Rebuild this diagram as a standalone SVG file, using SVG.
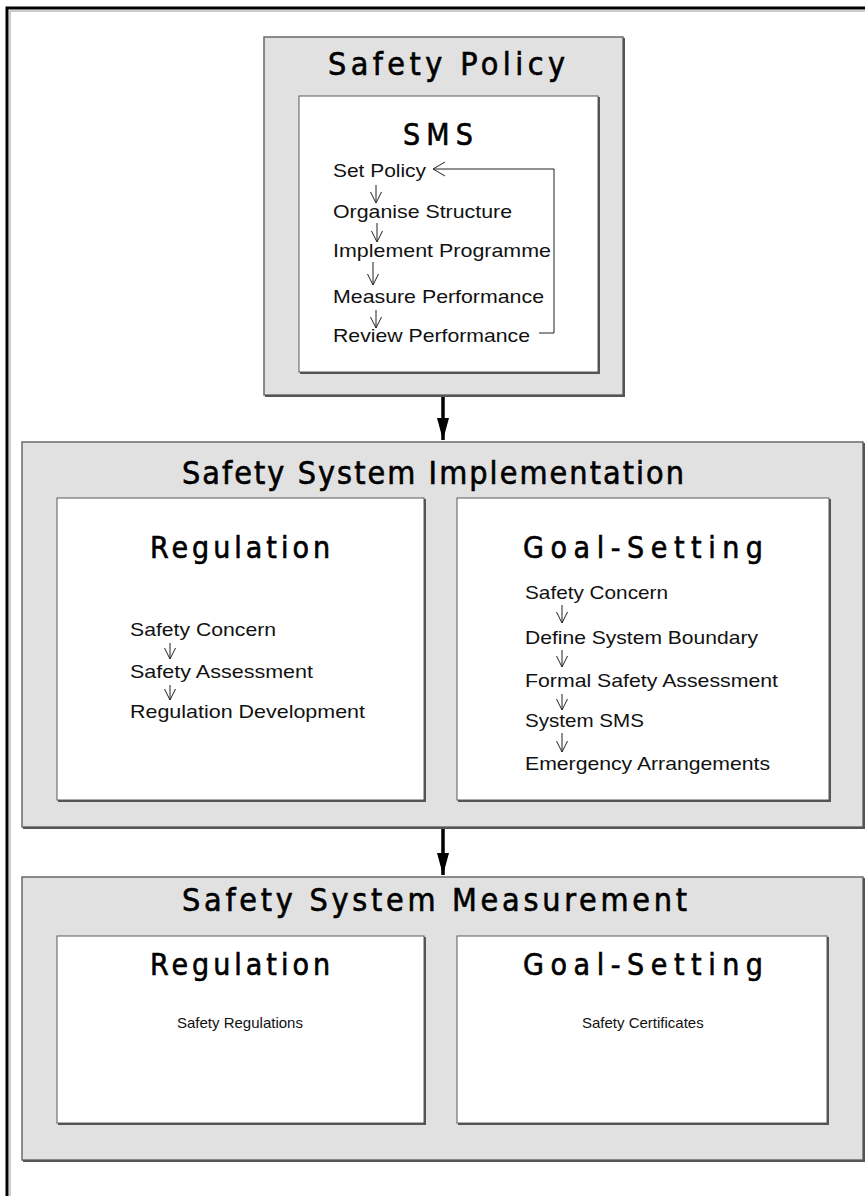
<svg xmlns="http://www.w3.org/2000/svg" width="865" height="1196" viewBox="0 0 865 1196">
  <style>
    .frame { fill: none; stroke: #000; stroke-width: 3; }
    .frame-shade { fill: none; stroke: #9a9a9a; stroke-width: 1; }
    .panel { fill: #e1e1e1; stroke: #6a6a6a; stroke-width: 1.5; }
    .card { fill: #fff; stroke: #5a5a5a; stroke-width: 1; }
    .shade { fill: none; stroke: #555; stroke-width: 2; }
    .head { font-family: "Liberation Sans Narrow", "DejaVu Sans Condensed", "Liberation Sans", sans-serif; font-size: 32px; fill: #000; stroke: #000; stroke-width: 0.6; }
    .sub { font-family: "Liberation Sans Narrow", "DejaVu Sans Condensed", "Liberation Sans", sans-serif; font-size: 30px; fill: #000; stroke: #000; stroke-width: 0.6; }
    .item { font-family: "Liberation Sans", Arial, sans-serif; font-size: 18.5px; fill: #111; }
    .small { font-family: "Liberation Sans", Arial, sans-serif; font-size: 15px; fill: #111; }
    .step { fill: none; stroke: #222; stroke-width: 1; }
    .flow { fill: none; stroke: #000; stroke-width: 3.5; }
  </style>
  <defs>
    <marker id="vhead" markerUnits="userSpaceOnUse" markerWidth="14" markerHeight="14" refX="12" refY="6" orient="auto">
      <path d="M1,0.5 L12,6 L1,11.5" fill="none" stroke="#222" stroke-width="1"/>
    </marker>
    <marker id="vback" markerUnits="userSpaceOnUse" markerWidth="16" markerHeight="18" refX="13" refY="8" orient="auto">
      <path d="M1,1 L13,8 L1,15" fill="none" stroke="#222" stroke-width="1"/>
    </marker>
    <marker id="solid" markerUnits="userSpaceOnUse" markerWidth="24" markerHeight="14" refX="22" refY="6" orient="auto">
      <path d="M0,0 L22,6 L0,12 Z" fill="#000"/>
    </marker>
  </defs>

  <!-- page frame: top and left rules -->
  <path class="frame" d="M7,1196 V8 H865"/>
  <path class="frame-shade" d="M10,1196 V11 H865"/>

  <!-- Safety Policy -->
  <g id="safety-policy">
    <rect class="panel" x="264" y="37" width="359" height="358"/>
    <path class="shade" d="M624,38 V396 H265"/>
    <text class="head" x="328" y="75" textLength="237" lengthAdjust="spacing">Safety Policy</text>
  </g>

  <g id="sms">
    <rect class="card" x="299" y="96" width="299" height="276"/>
    <path class="shade" d="M599,97 V373 H300"/>
    <text class="sub" x="403" y="145" textLength="70" lengthAdjust="spacing">SMS</text>
    <text class="item" x="333" y="177" textLength="93" lengthAdjust="spacingAndGlyphs">Set Policy</text>
    <text class="item" x="333" y="218" textLength="179" lengthAdjust="spacingAndGlyphs">Organise Structure</text>
    <text class="item" x="333" y="257" textLength="218" lengthAdjust="spacingAndGlyphs">Implement Programme</text>
    <text class="item" x="333" y="303" textLength="211" lengthAdjust="spacingAndGlyphs">Measure Performance</text>
    <text class="item" x="333" y="342" textLength="197" lengthAdjust="spacingAndGlyphs">Review Performance</text>
  </g>

  <!-- Safety System Implementation -->
  <g id="implementation">
    <rect class="panel" x="22" y="442" width="841" height="385"/>
    <path class="shade" d="M864,443 V828 H23"/>
    <text class="head" x="182" y="484" textLength="502" lengthAdjust="spacing">Safety System Implementation</text>
  </g>

  <g id="impl-regulation">
    <rect class="card" x="57" y="498" width="367" height="302"/>
    <path class="shade" d="M425,499 V801 H58"/>
    <text class="sub" x="150" y="558" textLength="180" lengthAdjust="spacing">Regulation</text>
    <text class="item" x="130" y="636" textLength="146" lengthAdjust="spacingAndGlyphs">Safety Concern</text>
    <text class="item" x="130" y="678" textLength="183" lengthAdjust="spacingAndGlyphs">Safety Assessment</text>
    <text class="item" x="130" y="718" textLength="235" lengthAdjust="spacingAndGlyphs">Regulation Development</text>
  </g>

  <g id="impl-goal-setting">
    <rect class="card" x="457" y="498" width="372" height="302"/>
    <path class="shade" d="M830,499 V801 H458"/>
    <text class="sub" x="523" y="558" textLength="240" lengthAdjust="spacing">Goal-Setting</text>
    <text class="item" x="525" y="599" textLength="143" lengthAdjust="spacingAndGlyphs">Safety Concern</text>
    <text class="item" x="525" y="644" textLength="233" lengthAdjust="spacingAndGlyphs">Define System Boundary</text>
    <text class="item" x="525" y="687" textLength="253" lengthAdjust="spacingAndGlyphs">Formal Safety Assessment</text>
    <text class="item" x="525" y="727" textLength="119" lengthAdjust="spacingAndGlyphs">System SMS</text>
    <text class="item" x="525" y="770" textLength="245" lengthAdjust="spacingAndGlyphs">Emergency Arrangements</text>
  </g>

  <!-- Safety System Measurement -->
  <g id="measurement">
    <rect class="panel" x="22" y="877" width="841" height="283"/>
    <path class="shade" d="M864,878 V1161 H23"/>
    <text class="head" x="182" y="911" textLength="505" lengthAdjust="spacing">Safety System Measurement</text>
  </g>

  <g id="meas-regulation">
    <rect class="card" x="57" y="936" width="367" height="187"/>
    <path class="shade" d="M425,937 V1124 H58"/>
    <text class="sub" x="150" y="975" textLength="180" lengthAdjust="spacing">Regulation</text>
    <text class="small" x="177" y="1028">Safety Regulations</text>
  </g>

  <g id="meas-goal-setting">
    <rect class="card" x="457" y="936" width="370" height="187"/>
    <path class="shade" d="M828,937 V1124 H458"/>
    <text class="sub" x="523" y="975" textLength="240" lengthAdjust="spacing">Goal-Setting</text>
    <text class="small" x="582" y="1028">Safety Certificates</text>
  </g>

  <!-- connectors -->
  <g id="connectors">
    <path class="flow" d="M443,397 V440" marker-end="url(#solid)"/>
    <path class="flow" d="M443,829 V875" marker-end="url(#solid)"/>

    <path class="step" d="M376,185 V203" marker-end="url(#vhead)"/>
    <path class="step" d="M377,223 V242" marker-end="url(#vhead)"/>
    <path class="step" d="M373,262 V285" marker-end="url(#vhead)"/>
    <path class="step" d="M376,310 V328" marker-end="url(#vhead)"/>
    <path class="step" d="M539,333 H554 V169 H433" marker-end="url(#vback)"/>

    <path class="step" d="M170,643 V659" marker-end="url(#vhead)"/>
    <path class="step" d="M170,685 V700" marker-end="url(#vhead)"/>

    <path class="step" d="M562,605 V623" marker-end="url(#vhead)"/>
    <path class="step" d="M562,650 V667" marker-end="url(#vhead)"/>
    <path class="step" d="M562,694 V710" marker-end="url(#vhead)"/>
    <path class="step" d="M562,733 V752" marker-end="url(#vhead)"/>
  </g>
</svg>
